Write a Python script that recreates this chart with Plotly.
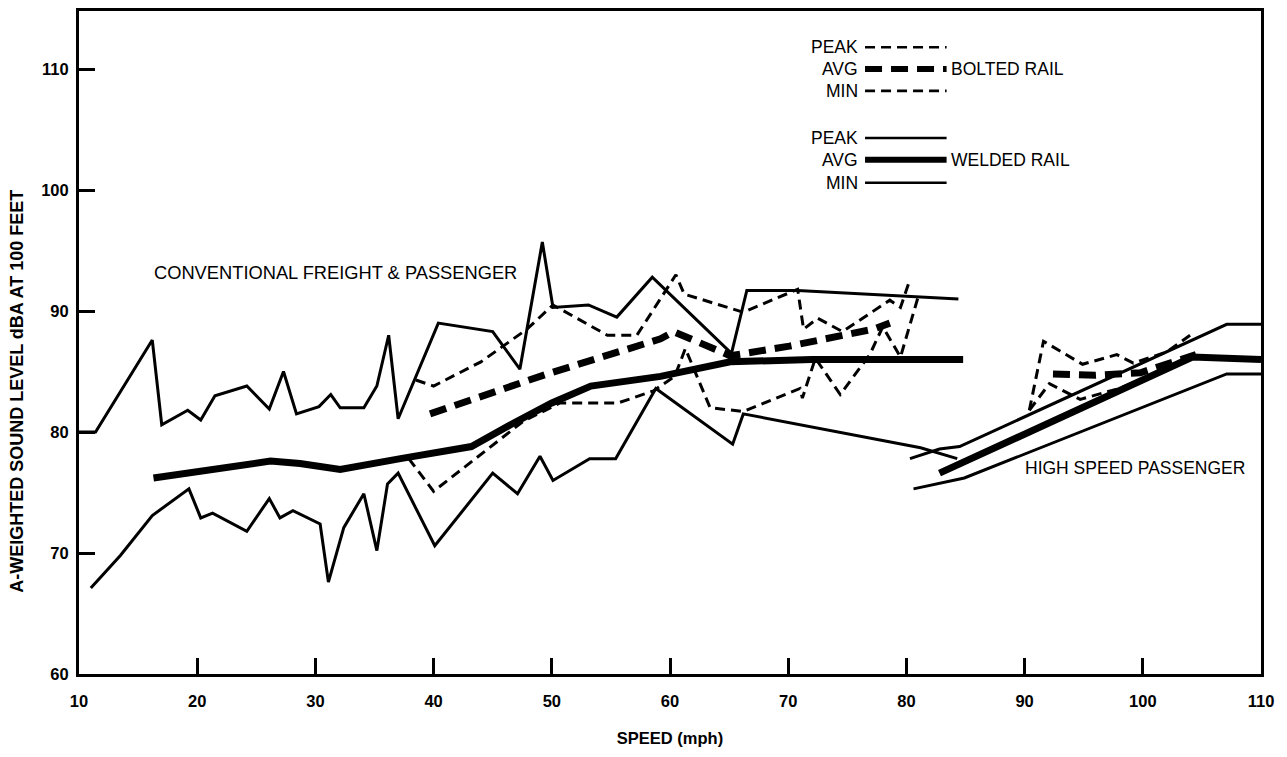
import plotly.graph_objects as go

# ---------------- data (speed mph, A-weighted level dBA) ----------------
# Conventional freight & passenger - welded rail
conv_weld_peak_x = [10.0, 11.4, 16.2, 17.0, 19.2, 20.3, 21.5, 24.2, 26.1, 27.3, 28.4, 30.3, 31.3, 32.1, 34.1,
                    35.2, 36.2, 37.0, 40.4, 45.0, 47.3, 49.2, 50.1, 53.1, 55.5, 58.5, 65.2, 66.5, 70.8, 84.4]
conv_weld_peak_y = [80.0, 80.0, 87.6, 80.6, 81.8, 81.0, 83.0, 83.8, 81.9, 85.0, 81.5, 82.1, 83.1, 82.0, 82.0,
                    83.8, 88.0, 81.1, 89.0, 88.3, 85.2, 95.7, 90.3, 90.5, 89.5, 92.8, 86.5, 91.7, 91.7, 91.0]
conv_weld_avg_x = [16.3, 20.3, 26.2, 28.7, 32.1, 37.2, 41.4, 43.2, 46.7, 50.0, 53.3, 59.2, 65.1, 72.0, 84.8]
conv_weld_avg_y = [76.2, 76.8, 77.6, 77.4, 76.9, 77.8, 78.6, 78.8, 80.7, 82.4, 83.8, 84.6, 85.8, 86.0, 86.0]
conv_weld_min_x = [11.0, 13.5, 16.2, 19.3, 20.3, 21.3, 24.2, 26.1, 27.0, 28.1, 30.4, 31.1, 32.4, 34.1, 35.2,
                   36.1, 37.0, 40.1, 45.0, 47.1, 49.0, 50.1, 53.2, 55.4, 58.8, 65.3, 66.2, 77.7, 81.2, 84.3]
conv_weld_min_y = [67.1, 69.8, 73.1, 75.3, 72.9, 73.3, 71.8, 74.5, 72.9, 73.5, 72.4, 67.6, 72.1, 74.9, 70.2,
                   75.7, 76.6, 70.6, 76.6, 74.9, 78.0, 76.0, 77.8, 77.8, 83.6, 79.0, 81.5, 79.4, 78.7, 77.8]

# Conventional freight & passenger - bolted rail
conv_bolt_peak_x = [38.5, 40.0, 44.0, 47.9, 50.1, 54.7, 57.2, 60.5, 61.2, 66.2, 70.8, 71.3, 72.5, 74.6, 78.6, 79.5, 80.3]
conv_bolt_peak_y = [84.3, 83.8, 85.8, 88.5, 90.5, 88.0, 88.0, 93.0, 91.4, 89.9, 91.8, 88.5, 89.4, 88.3, 90.9, 90.3, 92.6]
conv_bolt_avg_x = [39.7, 49.6, 59.2, 60.3, 65.1, 70.1, 77.2, 78.6]
conv_bolt_avg_y = [81.5, 84.8, 87.7, 88.3, 86.3, 87.1, 88.5, 89.0]
conv_bolt_min_x = [37.9, 40.0, 47.6, 50.7, 55.6, 58.6, 60.4, 61.3, 63.4, 66.2, 71.0, 71.2, 72.3, 74.4, 76.9, 78.0, 79.5, 81.0]
conv_bolt_min_y = [77.8, 75.1, 80.9, 82.4, 82.4, 83.4, 84.6, 86.9, 82.0, 81.7, 83.6, 82.8, 86.1, 83.1, 86.4, 88.7, 86.2, 91.2]

# High speed passenger - welded rail
hs_weld_peak_x = [80.3, 82.8, 84.5, 107.1, 110.0]
hs_weld_peak_y = [77.8, 78.6, 78.8, 88.9, 88.9]
hs_weld_avg_x = [82.8, 104.2, 110.0]
hs_weld_avg_y = [76.6, 86.2, 86.0]
hs_weld_min_x = [80.6, 84.9, 107.1, 110.0]
hs_weld_min_y = [75.3, 76.2, 84.8, 84.8]

# High speed passenger - bolted rail
hs_bolt_peak_x = [90.4, 91.6, 94.9, 97.8, 99.2, 102.0, 104.0]
hs_bolt_peak_y = [81.8, 87.5, 85.6, 86.4, 85.7, 86.6, 88.0]
hs_bolt_avg_x = [92.4, 96.0, 99.8, 104.5]
hs_bolt_avg_y = [84.8, 84.7, 84.9, 86.4]
hs_bolt_min_x = [90.4, 92.1, 94.7, 98.0, 101.0, 104.5]
hs_bolt_min_y = [81.8, 84.0, 82.7, 83.6, 84.8, 86.2]

x_ticks = [10, 20, 30, 40, 50, 60, 70, 80, 90, 100, 110]
y_ticks = [60, 70, 80, 90, 100, 110]

# ---------------- styles ----------------
FONT = "Liberation Sans"
THIN = dict(color="black", width=3)
THICK = dict(color="black", width=7)
THIN_DASH = dict(color="black", width=3, dash="10px,6px")
THICK_DASH = dict(color="black", width=7, dash="17px,9px")

series = [
    (conv_weld_peak_x, conv_weld_peak_y, THIN),
    (conv_weld_min_x, conv_weld_min_y, THIN),
    (conv_weld_avg_x, conv_weld_avg_y, THICK),
    (conv_bolt_peak_x, conv_bolt_peak_y, THIN_DASH),
    (conv_bolt_min_x, conv_bolt_min_y, THIN_DASH),
    (conv_bolt_avg_x, conv_bolt_avg_y, THICK_DASH),
    (hs_weld_peak_x, hs_weld_peak_y, THIN),
    (hs_weld_min_x, hs_weld_min_y, THIN),
    (hs_weld_avg_x, hs_weld_avg_y, THICK),
    (hs_bolt_peak_x, hs_bolt_peak_y, THIN_DASH),
    (hs_bolt_min_x, hs_bolt_min_y, THIN_DASH),
    (hs_bolt_avg_x, hs_bolt_avg_y, THICK_DASH),
]

fig = go.Figure()
for xs, ys, ln in series:
    fig.add_trace(go.Scatter(x=xs, y=ys, mode="lines", line=ln, showlegend=False, hoverinfo="skip"))

# ---------------- legend key (drawn as decoration) ----------------
key_x0, key_x1 = 76.5, 83.4
key_rows = [
    ("PEAK", 111.8, THIN_DASH, None),
    ("AVG", 110.0, THICK_DASH, "BOLTED RAIL"),
    ("MIN", 108.2, THIN_DASH, None),
    ("PEAK", 104.3, THIN, None),
    ("AVG", 102.5, THICK, "WELDED RAIL"),
    ("MIN", 100.6, THIN, None),
]
shapes = []
annotations = []
txt_font = dict(family=FONT, size=17.5, color="black")
for label, yv, ln, group in key_rows:
    shapes.append(dict(type="line", xref="x", yref="y", x0=key_x0, x1=key_x1, y0=yv, y1=yv,
                       line=dict(color="black", width=ln["width"] * 0.85, dash=ln.get("dash", "solid"))))
    annotations.append(dict(x=key_x0 - 0.45, y=yv, xref="x", yref="y", text=label, showarrow=False,
                            xanchor="right", yanchor="middle", font=txt_font))
    if group:
        annotations.append(dict(x=key_x1 + 0.2, y=yv, xref="x", yref="y", text=group, showarrow=False,
                                xanchor="left", yanchor="middle", font=txt_font))

annotations.append(dict(x=16.2, y=93.2, xref="x", yref="y", text="CONVENTIONAL FREIGHT & PASSENGER",
                        showarrow=False, xanchor="left", yanchor="middle",
                        font=dict(family=FONT, size=18.3, color="black")))
annotations.append(dict(x=89.85, y=77.0, xref="x", yref="y", text="HIGH SPEED PASSENGER",
                        showarrow=False, xanchor="left", yanchor="middle",
                        font=dict(family=FONT, size=17.5, color="black")))
# y-axis title (placed off-centre as in the original)
annotations.append(dict(x=-0.052, y=0.4264, xref="paper", yref="paper", text="A-WEIGHTED SOUND LEVEL dBA AT 100 FEET",
                        textangle=-90, showarrow=False, xanchor="center", yanchor="middle",
                        font=dict(family=FONT, size=18, color="black", weight="bold")))

axis_common = dict(showgrid=False, zeroline=False, showline=True, linecolor="black", linewidth=3,
                   mirror=True, ticks="inside", ticklen=16, tickwidth=3, tickcolor="black",
                   tickfont=dict(family=FONT, size=16.5, color="black", weight="bold"))

fig.update_layout(
    width=1287, height=757,
    margin=dict(l=79, r=26, t=8, b=83),
    paper_bgcolor="white", plot_bgcolor="white",
    shapes=shapes, annotations=annotations,
    xaxis=dict(range=[10, 110], tickvals=x_ticks, ticktext=[str(v) for v in x_ticks], ticklabelstandoff=10,
               title=dict(text="SPEED (mph)", font=dict(family=FONT, size=16.5, color="black", weight="bold"), standoff=24),
               **axis_common),
    yaxis=dict(range=[60, 114.8], tickvals=y_ticks, ticktext=[str(v) for v in y_ticks], ticklabelstandoff=4,
               **axis_common),
)

fig.write_html("out.html")
